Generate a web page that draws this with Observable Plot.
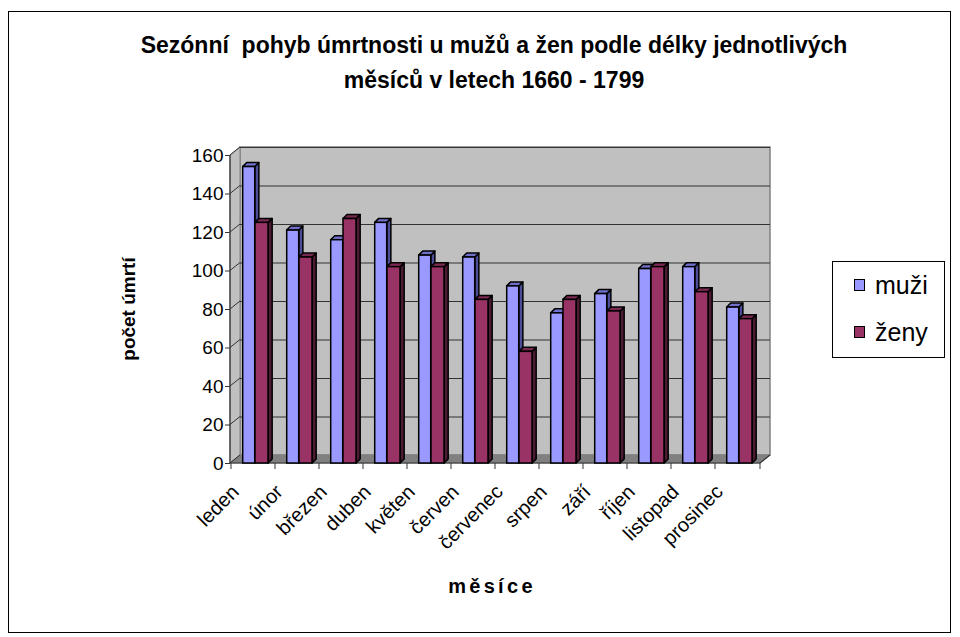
<!DOCTYPE html>
<html><head><meta charset="utf-8">
<script src="https://cdn.jsdelivr.net/npm/d3@7"></script>
<script src="https://cdn.jsdelivr.net/npm/@observablehq/plot@0.6"></script>
<style>
body{margin:0;background:#fff;font-family:"Liberation Sans",Arial,sans-serif;}
#wrap{position:relative;width:960px;height:637px;overflow:hidden;}
#border{position:absolute;left:8px;top:11px;width:943px;height:622px;border:1px solid #000;box-sizing:border-box;}
#title{position:absolute;left:44px;width:900px;top:28px;text-align:center;font-weight:bold;font-size:23px;line-height:35px;}
#ylab{position:absolute;left:129px;top:309px;transform:translate(-50%,-50%) rotate(-90deg);font-weight:bold;font-size:19px;white-space:nowrap;}
#xlab{position:absolute;left:492px;top:586px;transform:translate(-50%,-50%);font-weight:bold;font-size:20px;letter-spacing:3.3px;white-space:nowrap;}
#legend{position:absolute;left:832px;top:261px;width:113px;height:97px;border:1px solid #000;box-sizing:border-box;background:#fff;}
.li{position:absolute;left:21px;display:flex;align-items:center;font-size:25px;line-height:28px;}
.sw{width:11px;height:12px;border:1px solid #000;box-sizing:border-box;margin-right:10px;}
#plot{position:absolute;left:0;top:0;}
</style></head>
<body>
<div id="wrap">
  <div id="plot"></div>
  <div id="border"></div>
  <div id="title">Sezónní&nbsp; pohyb úmrtnosti u mužů a žen podle délky jednotlivých<br>měsíců v letech 1660 - 1799</div>
  <div id="ylab">počet úmrtí</div>
  <div id="xlab">měsíce</div>
  <div id="legend"></div>
</div>
<script>
const months = ["leden","únor","březen","duben","květen","červen","červenec","srpen","září","říjen","listopad","prosinec"];
const muzi = [154,121,116,125,108,107,92,78,88,101,102,81];
const zeny = [125,107,127,102,102,85,58,85,79,102,89,75];
const yTicks = [0,20,40,60,80,100,120,140,160];
const seriesNames = ["muži","ženy"];
const seriesColors = ["#9999ff","#993366"];
const sideColors = ["#4d4d99","#4d1a33"];
const topColors = ["#7070cc","#7a2952"];

const D = 4;          // bar depth (px)
const WX = 10, WY = 8; // wall offset (px)
const ins = [[11.7,20.3],[24,7]];

const dataM = months.map((m,i)=>({month:m, value:muzi[i]}));
const dataZ = months.map((m,i)=>({month:m, value:zeny[i]}));

function bw(dim){ return (dim.width - dim.marginLeft - dim.marginRight)/months.length; }

function walls(index, scales, values, dim){
  const g = d3.create("svg:g");
  const L = dim.marginLeft, R = dim.width - dim.marginRight;
  const y0 = scales.y(0), yT = scales.y(160);
  g.append("path").attr("d",`M${L+WX},${yT-WY}H${R+WX}V${y0-WY}H${L+WX}Z`).attr("fill","#c0c0c0").attr("stroke","#808080").attr("stroke-width",1.5);
  g.append("path").attr("d",`M${L},${yT}L${L+WX},${yT-WY}V${y0-WY}L${L},${y0}Z`).attr("fill","#c0c0c0").attr("stroke","#808080");
  g.append("path").attr("d",`M${L},${y0}L${L+WX},${y0-WY}H${R+WX}L${R},${y0}Z`).attr("fill","#808080").attr("stroke","#808080");
  return g.node();
}
function frontLines(index, scales, values, dim){
  const g = d3.create("svg:g").attr("stroke","#333").attr("fill","none");
  const L = dim.marginLeft, R = dim.width - dim.marginRight;
  const y0 = scales.y(0), yT = scales.y(160);
  yTicks.forEach(v => {
    g.append("path").attr("d",`M${L},${scales.y(v)}L${L+WX},${scales.y(v)-WY}`);
  });
  g.append("path").attr("d",`M${L},${yT}V${y0}H${R}L${R+WX},${y0-WY}`).attr("stroke-width",1.2);
  months.forEach(m => g.append("path").attr("d",`M${scales.x(m)},${y0}v6`));
  g.append("path").attr("d",`M${R},${y0}v6`);
  return g.node();
}
function faces(vals, k){
  return (index, scales, values, dim) => {
    const g = d3.create("svg:g").attr("stroke","#000").attr("stroke-width",1.5).attr("stroke-linejoin","round");
    const b = bw(dim);
    months.forEach((m,i) => {
      const x0 = scales.x(m) + ins[k][0], x1 = scales.x(m) + b - ins[k][1];
      const yt = scales.y(vals[i]), yb = scales.y(0);
      g.append("path").attr("d",`M${x1},${yb}L${x1+D},${yb-D}L${x1+D},${yt-D}L${x1},${yt}Z`).attr("fill",sideColors[k]);
      g.append("path").attr("d",`M${x0},${yt}L${x0+D},${yt-D}L${x1+D},${yt-D}L${x1},${yt}Z`).attr("fill",topColors[k]);
    });
    return g.node();
  };
}

const plot = Plot.plot({
  width: 960, height: 637,
  marginLeft: 230, marginRight: 200, marginTop: 155, marginBottom: 174,
  style: {fontFamily: "'Liberation Sans', Arial, sans-serif", background: "transparent"},
  x: {type: "band", domain: months, padding: 0, axis: null},
  y: {domain: [0,160], axis: null},
  marks: [
    walls,
    Plot.ruleY(yTicks.slice(1), {stroke:"#333", dx: WX, dy: -WY, strokeWidth: 1.2}),
    frontLines,
    faces(muzi, 0),
    Plot.barY(dataM, {x:"month", y:"value", fill: seriesColors[0], stroke:"#000", strokeWidth:1.5, insetLeft: ins[0][0], insetRight: ins[0][1]}),
    faces(zeny, 1),
    Plot.barY(dataZ, {x:"month", y:"value", fill: seriesColors[1], stroke:"#000", strokeWidth:1.5, insetLeft: ins[1][0], insetRight: ins[1][1]}),
    Plot.axisY({ticks: yTicks, tickSize: 5, tickPadding: 2, fontSize: 19, label: null, stroke:"#333"}),
    Plot.text(months, {x: d=>d, y: 0, text: d=>d, rotate: -45, textAnchor: "end", lineAnchor: "middle", dx: -18, dy: 25, fontSize: 20})
  ]
});
document.getElementById("plot").appendChild(plot);

const leg = document.getElementById("legend");
seriesNames.forEach((s,i) => {
  const d = document.createElement("div");
  d.className = "li";
  d.style.top = (i===0 ? 9 : 56) + "px";
  d.innerHTML = `<div class="sw" style="background:${seriesColors[i]}"></div><span>${s}</span>`;
  leg.appendChild(d);
});
</script>
</body></html>
